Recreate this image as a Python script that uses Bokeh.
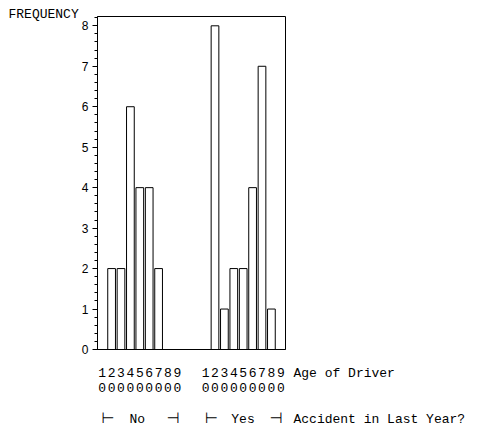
from bokeh.plotting import figure
from bokeh.models import (FactorRange, Range1d, SingleIntervalTicker, Label,
                          CustomJSTickFormatter, ColumnDataSource)
from bokeh.embed import file_html
from bokeh.resources import INLINE

# ---- data ----
ages = ["10", "20", "30", "40", "50", "60", "70", "80", "90"]
groups = ["No", "Yes"]
freq_no = [0, 2, 2, 6, 4, 4, 2, 0, 0]
freq_yes = [0, 8, 1, 2, 2, 4, 7, 1, 0]
y_title = "FREQUENCY"
x_title = "Age of Driver"
group_title = "Accident in Last Year?"

factors = [(g, a) for g in groups for a in ages]
counts = freq_no + freq_yes
src = ColumnDataSource(dict(x=factors, top=counts))

GP = 2.0
YMAX = 8.23
MONO = "Liberation Mono"
FS = "13px"
L, T, FW, FH = 97, 16, 188, 333
W, H = 492, 427

p = figure(x_range=FactorRange(*factors, group_padding=GP, range_padding=0, factor_padding=0),
           y_range=Range1d(0, YMAX),
           width=W, height=H, output_backend="svg", toolbar_location=None,
           min_border_left=L, min_border_right=W - L - FW, min_border_top=T,
           min_border_bottom=H - T - FH)
p.outline_line_color = "black"
p.outline_line_width = 1
p.xgrid.visible = False
p.ygrid.visible = False
p.background_fill_color = "white"
p.border_fill_color = "white"

p.vbar(x="x", top="top", width=0.82, source=src, fill_color="white",
       line_color="black", line_width=1)

# y axis
ya = p.yaxis[0]
ya.ticker = SingleIntervalTicker(interval=1, num_minor_ticks=5)
ya.major_tick_out = 5
ya.major_tick_in = 0
ya.minor_tick_out = 3
ya.minor_tick_in = 0
ya.major_label_standoff = 4
ya.major_label_text_font = "Liberation Sans"
ya.major_label_text_font_size = "12px"
ya.major_label_text_color = "black"
ya.axis_line_color = "black"

# x axis
xa = p.xaxis[0]
xa.major_tick_out = 0
xa.major_tick_in = 0
xa.axis_line_color = "black"
xa.formatter = CustomJSTickFormatter(code="return String(tick).split('').join('\\n')")
xa.major_label_standoff = 16
xa.major_label_text_font = MONO
xa.major_label_text_font_size = FS
xa.major_label_text_line_height = 1.0
xa.major_label_text_color = "black"
xa.group_text_color = None
xa.group_text_font_size = "1px"
xa.separator_line_color = None

# page px -> data coordinates (for the text decorations)
pxu = FW / (2 * len(ages) + GP)
pyu = FH / YMAX


def xd(px):
    return (px - L) / pxu


def yd(py):
    return (T + FH - py) / pyu


def lab(text, px, py, align="left", font=MONO, size=FS):
    return Label(x=xd(px), y=yd(py), text=text, text_font=font, text_font_size=size,
                 text_align=align, text_baseline="alphabetic", text_color="black")


ROW1 = 373
ROW3 = 419
TACK = "15px"
TY = ROW3 - 1.5

p.add_layout(lab(y_title, 8, 14), "above")
p.add_layout(lab(x_title, 293, ROW1), "right")
p.add_layout(lab(group_title, 293, ROW3), "below")

# group markers:  |- No -|   |- Yes -|
p.add_layout(lab("\u22a2", 101, TY, "left", "DejaVu Sans", TACK), "left")
p.add_layout(lab("\u22a3", 179, TY, "right", "DejaVu Sans", TACK), "left")
p.add_layout(lab(groups[0], 136.7, ROW3, "center"), "left")
p.add_layout(lab("\u22a2", 204.5, TY, "left", "DejaVu Sans", TACK), "left")
p.add_layout(lab("\u22a3", 282, TY, "right", "DejaVu Sans", TACK), "left")
p.add_layout(lab(groups[1], 242.5, ROW3, "center"), "right")

open("out.html", "w").write(file_html(p, INLINE))
